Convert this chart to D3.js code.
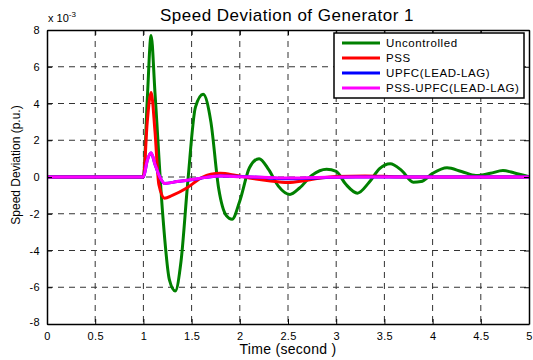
<!DOCTYPE html>
<html><head><meta charset="utf-8">
<script src="https://cdn.jsdelivr.net/npm/d3@7"></script>
<style>body{margin:0;background:#fff;}svg{display:block;font-family:"Liberation Sans",Arial,sans-serif;}</style>
</head><body>
<svg id="c" width="533" height="360"></svg>
<script>
const xTicks = [0,0.5,1,1.5,2,2.5,3,3.5,4,4.5,5];
const xTickLabels = ["0","0.5","1","1.5","2","2.5","3","3.5","4","4.5","5"];
const yTicks = [-8,-6,-4,-2,0,2,4,6,8];
const yTickLabels = ["-8","-6","-4","-2","0","2","4","6","8"];
const seriesNames = ["Uncontrolled","PSS","UPFC(LEAD-LAG)","PSS-UPFC(LEAD-LAG)"];
const seriesColors = ["#008000","#ff0000","#0000ff","#ff00ff"];

// values in units of 1e-3
const tUncontrolled = [0,1.0,1.04,1.08,1.12,1.2,1.27,1.33,1.39,1.46,1.54,1.62,1.70,1.78,1.86,1.92,2.0,2.1,2.2,2.3,2.4,2.52,2.62,2.75,2.9,3.0,3.1,3.22,3.34,3.45,3.56,3.68,3.8,3.88,4.0,4.15,4.3,4.45,4.6,4.73,4.85,5.0];
const vUncontrolled = [0,0,4.2,7.7,4.6,-2.0,-5.6,-6.2,-4.6,-0.3,3.8,4.5,3.0,-0.6,-2.1,-2.3,-1.3,0.5,1.0,0.4,-0.5,-0.95,-0.6,0.1,0.42,0.3,-0.4,-0.88,-0.3,0.45,0.72,0.35,-0.28,-0.25,0.2,0.5,0.3,0.08,0.2,0.35,0.22,0.02];
const tPSS = [0,1.0,1.04,1.08,1.12,1.16,1.22,1.3,1.45,1.6,1.7,1.8,1.95,2.1,2.3,2.5,2.65,2.8,3.0,3.3,3.6,4.0,5.0];
const vPSS = [0,0,3.0,4.6,2.5,-0.4,-1.15,-1.0,-0.6,-0.05,0.15,0.2,0.1,-0.05,-0.2,-0.3,-0.22,-0.08,0.03,0.06,0.02,0.0,0.0];
const tUPFC = [0,1.0,1.04,1.08,1.12,1.17,1.22,1.35,1.5,1.65,1.8,2.0,2.3,2.5,2.8,3.2,4.0,5.0];
const vUPFC = [0,0,0.9,1.3,0.7,0.0,-0.35,-0.25,-0.15,-0.02,0.05,0.03,-0.05,-0.1,-0.05,0.0,0.0,0.0];
const tPSSUPFC = [0,1.0,1.04,1.08,1.12,1.17,1.22,1.35,1.5,1.65,1.8,2.0,2.3,2.5,2.8,3.2,4.0,5.0];
const vPSSUPFC = [0,0,0.9,1.32,0.7,0.0,-0.35,-0.25,-0.14,-0.02,0.05,0.02,-0.03,-0.06,-0.03,0.0,0.0,0.0];

const svg = d3.select("#c");
const L=47, R=529, T=30, B=324;
const x = d3.scaleLinear().domain([0,5]).range([L,R]);
const y = d3.scaleLinear().domain([-8,8]).range([B,T]);

// grid
const g = svg.append("g");
g.selectAll("line.gx").data(xTicks.slice(1,-1)).enter().append("line")
  .attr("x1",d=>x(d)).attr("x2",d=>x(d)).attr("y1",T).attr("y2",B)
  .attr("stroke","#333").attr("stroke-width",1).attr("stroke-dasharray","6,5");
g.selectAll("line.gy").data(yTicks.slice(1,-1)).enter().append("line")
  .attr("y1",d=>y(d)).attr("y2",d=>y(d)).attr("x1",L).attr("x2",R)
  .attr("stroke","#333").attr("stroke-width",1).attr("stroke-dasharray","6,5");

// lines
const series = [[tUncontrolled,vUncontrolled],[tPSS,vPSS],[tUPFC,vUPFC],[tPSSUPFC,vPSSUPFC]];
const line = d3.line().x(d=>x(d[0])).y(d=>y(d[1])).curve(d3.curveMonotoneX);
series.forEach((s,i)=>{
  const pts = s[0].map((t,j)=>[t,s[1][j]]);
  svg.append("path").datum(pts).attr("d",line).attr("fill","none")
    .attr("stroke",seriesColors[i]).attr("stroke-width",3).attr("stroke-linejoin","round");
});

// axes
const axB = svg.append("g").attr("transform",`translate(0,${B})`)
  .call(d3.axisBottom(x).tickValues(xTicks).tickFormat((d,i)=>xTickLabels[i]).tickSizeInner(-5).tickSizeOuter(0).tickPadding(8));
const axL = svg.append("g").attr("transform",`translate(${L},0)`)
  .call(d3.axisLeft(y).tickValues(yTicks).tickFormat((d,i)=>yTickLabels[i]).tickSizeInner(-5).tickSizeOuter(0).tickPadding(7));
const axT = svg.append("g").attr("transform",`translate(0,${T})`)
  .call(d3.axisTop(x).tickValues(xTicks).tickFormat("").tickSizeInner(-5).tickSizeOuter(0));
const axR = svg.append("g").attr("transform",`translate(${R},0)`)
  .call(d3.axisRight(y).tickValues(yTicks).tickFormat("").tickSizeInner(-5).tickSizeOuter(0));
[axB,axL,axT,axR].forEach(a=>{
  a.selectAll("path.domain").attr("stroke","#000").attr("stroke-width",1.5);
  a.selectAll(".tick line").attr("stroke","#000");
  a.selectAll("text").attr("font-size",11).attr("letter-spacing","0.3px").attr("fill","#000").attr("font-family","Liberation Sans, Arial, sans-serif");
});
axB.selectAll(".tick text").attr("dy","0.71em");
axL.selectAll(".tick text").filter(d=>d===-8).attr("dy","0.1em");

// exponent
const ex = svg.append("text").attr("x",48).attr("y",22).attr("font-size",11);
ex.append("tspan").text("x 10");
ex.append("tspan").attr("dy",-5).attr("font-size",8).text("-3");

// title
svg.append("text").attr("x",287).attr("y",21).attr("text-anchor","middle")
  .attr("font-size",17).attr("letter-spacing","0.5px").text("Speed Deviation of Generator 1");
// x label
svg.append("text").attr("x",288).attr("y",354).attr("text-anchor","middle")
  .attr("font-size",14).attr("letter-spacing","0.3px").text("Time (second )");
// y label
svg.append("text").attr("transform",`translate(20,${(T+B)/2-12}) rotate(-90)`).attr("text-anchor","middle")
  .attr("font-size",12).text("Speed Deviation (p.u.)");

// legend
const lg = svg.append("g");
lg.append("rect").attr("x",334).attr("y",33).attr("width",190).attr("height",65)
  .attr("fill","#fff").attr("stroke","#000").attr("stroke-width",1.5);
seriesNames.forEach((n,i)=>{
  const yy = 43 + i*15;
  lg.append("line").attr("x1",342).attr("x2",380).attr("y1",yy).attr("y2",yy)
    .attr("stroke",seriesColors[i]).attr("stroke-width",3);
  lg.append("text").attr("x",386).attr("y",yy+4).attr("font-size",11.5).attr("letter-spacing","0.6px").text(n);
});
</script>
</body></html>
